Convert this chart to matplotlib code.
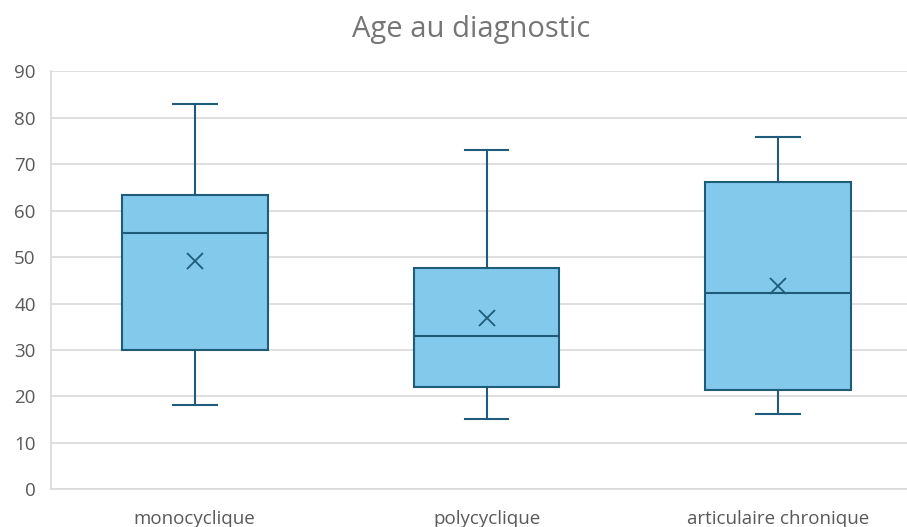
import matplotlib
matplotlib.use("Agg")
import matplotlib.pyplot as plt

categories = ["monocyclique", "polycyclique", "articulaire chronique"]
whisker_low = [18.2, 15.1, 16.2]
q1 = [30.0, 22.1, 21.4]
median = [55.1, 33.1, 42.2]
q3 = [63.3, 47.7, 66.1]
whisker_high = [83.0, 73.1, 75.9]
mean = [49.2, 36.9, 43.8]

plt.rcParams['font.family'] = ['Open Sans', 'DejaVu Sans']

fill = '#83C9EB'
edge = '#1E5C7A'

stats = []
for i, name in enumerate(categories):
    stats.append(dict(label=name, whislo=whisker_low[i], q1=q1[i], med=median[i],
                      q3=q3[i], whishi=whisker_high[i], mean=mean[i], fliers=[]))

fig = plt.figure(figsize=(9.07, 5.27), dpi=100)
ax = fig.add_axes([51 / 907, 0.0715, 1 - 51 / 907, 0.7932])

ax.bxp(stats, positions=range(3), widths=0.5, showmeans=True, patch_artist=True,
       boxprops=dict(facecolor=fill, edgecolor=edge, linewidth=1.5),
       medianprops=dict(color=edge, linewidth=1.5),
       whiskerprops=dict(color=edge, linewidth=1.5),
       capprops=dict(color=edge, linewidth=1.5),
       capwidths=0.15,
       meanprops=dict(marker='x', markeredgecolor=edge, markersize=11, markeredgewidth=1.3))

ax.set_xlim(-0.4925, 2.441)
ax.set_ylim(0, 90)
ax.set_yticks(range(0, 91, 10))
ax.yaxis.grid(True, color='#d9d9d9', linewidth=1.2)
ax.set_axisbelow(True)
for s in ['top', 'right']:
    ax.spines[s].set_visible(False)
for s in ['left', 'bottom']:
    ax.spines[s].set_color('#d9d9d9')
    ax.spines[s].set_linewidth(1.2)
ax.tick_params(axis='both', length=0, labelcolor='#595959', labelsize=13.5)
ax.tick_params(axis='x', pad=15)
ax.tick_params(axis='y', pad=11)

fig.text(471 / 907, 1 - 29 / 527, "Age au diagnostic", ha='center', va='center',
         fontsize=21, color='#757575')

fig.savefig("out.png", dpi=100)
